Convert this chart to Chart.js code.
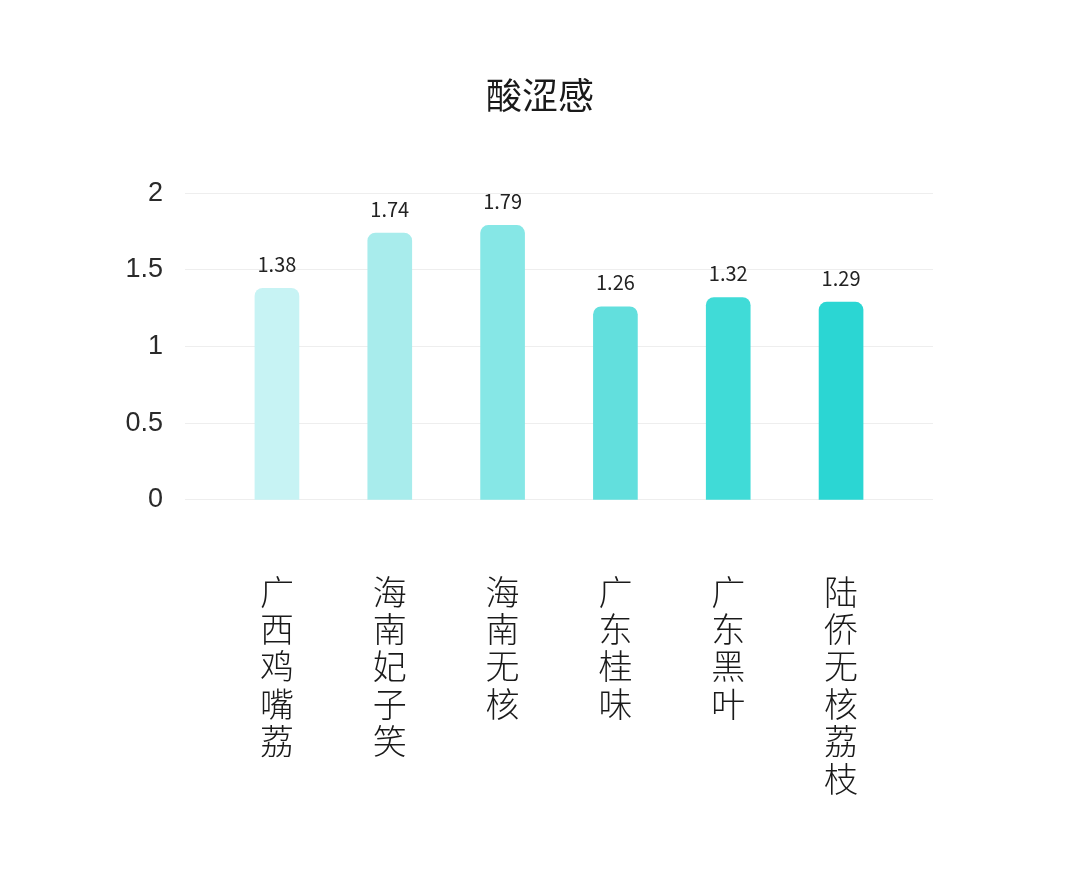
<!DOCTYPE html>
<html>
<head>
<meta charset="utf-8">
<script src="https://cdn.jsdelivr.net/npm/chart.js@4/dist/chart.umd.min.js"></script>
<style>
  html, body { margin: 0; padding: 0; background: #ffffff; }
  #wrap { width: 1080px; height: 886px; }
</style>
</head>
<body>
<div id="wrap"><canvas id="bar-chart" width="1080" height="886"></canvas></div>
<script>
// 酸涩感 - 各品种荔枝
var categories = ["广西鸡嘴荔", "海南妃子笑", "海南无核", "广东桂味", "广东黑叶", "陆侨无核荔枝"];
var values = [1.38, 1.74, 1.79, 1.26, 1.32, 1.29];
var yTicks = [0, 0.5, 1, 1.5, 2];
var barColors = ["#c7f3f4", "#a8ecec", "#86e7e6", "#62dfdd", "#40dbd7", "#2bd6d3"];

var FONT = "'Noto Sans CJK SC', 'Noto Sans', sans-serif";

// numbers above each bar
var valueLabels = {
  id: 'valueLabels',
  afterDatasetsDraw: function (chart) {
    var ctx = chart.ctx;
    var meta = chart.getDatasetMeta(0);
    ctx.save();
    ctx.font = "20px " + FONT;
    ctx.fillStyle = "#222222";
    ctx.textAlign = "center";
    ctx.textBaseline = "middle";
    meta.data.forEach(function (bar, i) {
      ctx.fillText(values[i].toFixed(2), bar.x, bar.y - 24);
    });
    ctx.restore();
  }
};

var dataPlot = new Chart(document.getElementById("bar-chart"), {
  type: 'bar',
  data: {
    datasets: [{
      data: categories.map(function (c, i) { return { x: i, y: values[i] }; }),
      backgroundColor: barColors,
      borderWidth: 0,
      borderRadius: { topLeft: 8, topRight: 8 },
      borderSkipped: 'bottom',
      barThickness: 44
    }]
  },
  options: {
    responsive: false,
    animation: false,
    layout: { padding: 0 },
    plugins: {
      legend: { display: false },
      tooltip: { enabled: false },
      title: {
        display: true,
        text: "酸涩感",
        color: "#1a1a1a",
        font: { family: FONT, size: 36, weight: 'normal' },
        padding: { top: 74, bottom: 76 }
      }
    },
    scales: {
      x: {
        type: 'linear',
        offset: false,
        min: -0.815,
        max: 5.815,
        grid: { display: false, drawTicks: false },
        border: { display: false },
        afterBuildTicks: function (scale) {
          scale.ticks = categories.map(function (c, i) { return { value: i }; });
        },
        afterFit: function (scale) { scale.height = 386; },
        ticks: {
          autoSkip: false,
          maxRotation: 0,
          padding: 73,
          color: "#1a1a1a",
          font: { family: FONT, size: 34, weight: 300, lineHeight: 1.1 },
          callback: function (v) { return categories[v] ? categories[v].split('') : ''; }
        }
      },
      y: {
        min: 0,
        max: 2,
        afterBuildTicks: function (scale) {
          scale.ticks = yTicks.map(function (t) { return { value: t }; });
        },
        afterFit: function (scale) { scale.width = 185; },
        grid: { color: "#eeeeee", lineWidth: 1, drawTicks: false },
        border: { display: false },
        ticks: {
          padding: 22,
          color: "#2a2a2a",
          font: { family: "'Liberation Sans', Arial, sans-serif", size: 27 },
          callback: function (v) { return String(v); }
        }
      },
      // empty right-hand axis, only keeps the plot area off the right edge
      yRight: {
        position: 'right',
        min: 0,
        max: 2,
        afterFit: function (scale) { scale.width = 147; },
        grid: { display: false, drawTicks: false },
        border: { display: false },
        ticks: { display: false }
      }
    }
  },
  plugins: [valueLabels]
});
</script>
</body>
</html>
